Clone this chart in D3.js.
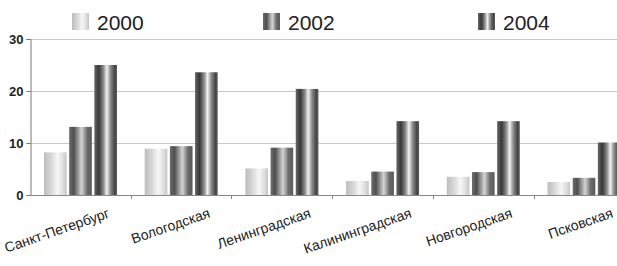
<!DOCTYPE html>
<html>
<head>
<meta charset="utf-8">
<script src="https://cdn.jsdelivr.net/npm/d3@7"></script>
<style>
  body { margin: 0; background: #fff; }
  svg { display: block; font-family: "Liberation Sans", Arial, sans-serif; }
</style>
</head>
<body>
<div id="viz"></div>
<script>
const regions = ['Санкт-Петербург', 'Вологодская', 'Ленинградская', 'Калининградская', 'Новгородская', 'Псковская'];
const years = ['2000', '2002', '2004'];
const v2000 = [8.2, 8.9, 5.1, 2.7, 3.5, 2.5];
const v2002 = [13.1, 9.4, 9.1, 4.5, 4.4, 3.3];
const v2004 = [25, 23.6, 20.4, 14.2, 14.2, 10.1];
const yTicks = [0, 10, 20, 30];

const series = { '2000': v2000, '2002': v2002, '2004': v2004 };

const width = 617, height = 266;
const margin = { left: 30, top: 39, bottom: 71 };
const plotBottom = height - margin.bottom;

const svg = d3.select('#viz').append('svg')
  .attr('width', width)
  .attr('height', height);

// gradients for the cylinder-like bars
const grads = {
  '2000': [[0, '#bdbdbd'], [0.3, '#d6d6d6'], [0.6, '#f7f7f7'], [0.85, '#dcdcdc'], [1, '#c4c4c4']],
  '2002': [[0, '#6e6e6e'], [0.2, '#4e4e4e'], [0.55, '#d4d4d4'], [0.8, '#6a6a6a'], [1, '#5a5a5a']],
  '2004': [[0, '#666'], [0.2, '#383838'], [0.4, '#8a8a8a'], [0.55, '#f2f2f2'], [0.72, '#888'], [0.9, '#444'], [1, '#5e5e5e']]
};
const defs = svg.append('defs');
years.forEach(y => {
  defs.append('linearGradient')
    .attr('id', 'g' + y)
    .attr('x1', 0).attr('x2', 1).attr('y1', 0).attr('y2', 0)
    .selectAll('stop')
    .data(grads[y])
    .join('stop')
    .attr('offset', d => d[0])
    .attr('stop-color', d => d[1]);
});

const x0 = d3.scaleBand()
  .domain(regions)
  .range([margin.left, margin.left + 6 * 100.7]);
const x1 = d3.scaleBand()
  .domain(years)
  .range([14, 87])
  .paddingInner(0.1);
const y = d3.scaleLinear()
  .domain([0, 30])
  .range([plotBottom, margin.top]);

// gridlines
svg.append('g')
  .selectAll('line')
  .data(yTicks.slice(1))
  .join('line')
  .attr('x1', margin.left).attr('x2', width)
  .attr('y1', d => y(d) + 0.5).attr('y2', d => y(d) + 0.5)
  .attr('stroke', '#c8c8c8')
  .attr('stroke-width', 1);

// bars
const groups = svg.append('g')
  .selectAll('g')
  .data(regions)
  .join('g')
  .attr('transform', d => `translate(${x0(d)},0)`);

groups.selectAll('rect')
  .data((d, i) => years.map(yr => ({ yr, v: series[yr][i] })))
  .join('rect')
  .attr('x', d => x1(d.yr))
  .attr('width', x1.bandwidth())
  .attr('y', d => y(d.v))
  .attr('height', d => y(0) - y(d.v))
  .attr('fill', d => `url(#g${d.yr})`);

// y axis
const yAxis = svg.append('g')
  .attr('transform', `translate(${margin.left + 0.5},0)`)
  .call(d3.axisLeft(y).tickValues(yTicks).tickSize(4).tickPadding(3));
yAxis.select('.domain').attr('stroke', '#777');
yAxis.selectAll('.tick line').attr('stroke', '#777');
yAxis.selectAll('.tick text')
  .attr('fill', '#222')
  .style('font-size', '13px')
  .style('font-weight', 'bold')
  .style('font-family', '"Liberation Sans", Arial, sans-serif');

// x axis line + boundary ticks
svg.append('line')
  .attr('x1', margin.left).attr('x2', width)
  .attr('y1', plotBottom + 0.5).attr('y2', plotBottom + 0.5)
  .attr('stroke', '#888');
svg.append('g')
  .selectAll('line')
  .data(regions.slice(1))
  .join('line')
  .attr('x1', d => Math.round(x0(d)) + 0.5).attr('x2', d => Math.round(x0(d)) + 0.5)
  .attr('y1', plotBottom).attr('y2', plotBottom + 4)
  .attr('stroke', '#888');

// category labels (rotated)
const lx = d => x0(d) + x0.bandwidth() / 2 + 30;
const ly = plotBottom + 22;
svg.append('g')
  .selectAll('text')
  .data(regions)
  .join('text')
  .attr('x', lx)
  .attr('y', ly)
  .attr('transform', d => `rotate(-19 ${lx(d)} ${ly})`)
  .attr('text-anchor', 'end')
  .attr('fill', '#222')
  .style('font-size', '14px')
  .text(d => d);

// legend
const legendX = [72, 263, 478];
const legend = svg.append('g')
  .selectAll('g')
  .data(years)
  .join('g')
  .attr('transform', (d, i) => `translate(${legendX[i]},13)`);
legend.append('rect')
  .attr('width', 17).attr('height', 17)
  .attr('fill', d => `url(#g${d})`);
legend.append('text')
  .attr('x', 25).attr('y', 17)
  .attr('fill', '#222')
  .style('font-size', '21px')
  .text(d => d);
</script>
</body>
</html>
